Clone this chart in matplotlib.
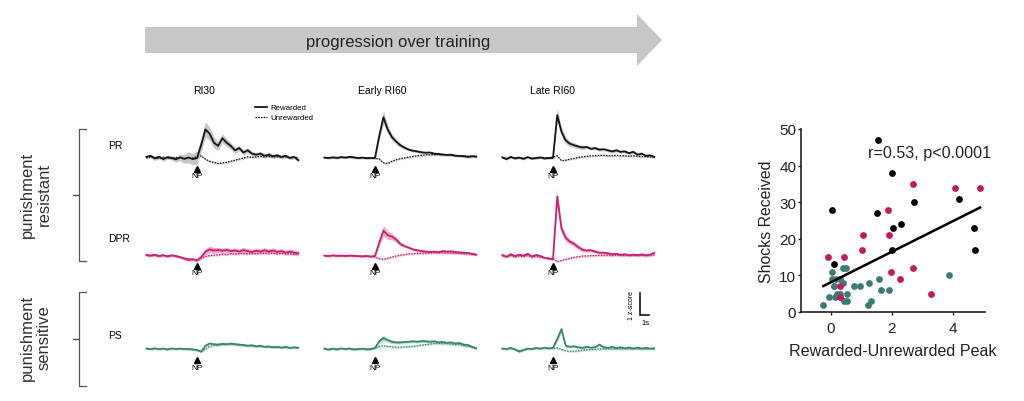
import numpy as np
import matplotlib
matplotlib.use('Agg')
import matplotlib.pyplot as plt
from matplotlib.patches import Polygon
from matplotlib.lines import Line2D

plt.rcParams['font.family'] = ['Liberation Sans', 'DejaVu Sans']

# ---------------- data ----------------
sample_index = np.arange(-12, 25)
sample_period_s = 0.454
time_s = sample_index * sample_period_s

columns = ['RI30', 'Early RI60', 'Late RI60']
groups = ['PR', 'DPR', 'PS']
group_names = ['punishment\nresistant', 'punishment\nsensitive']

# PR (black)
pr_ri30_rew = [0.05, 0.1, -0.02, 0.06, -0.05, 0.04, 0.0, -0.06, 0.03, -0.04, 0.02, -0.05,
               0.0, 0.6, 1.3, 1.1, 0.7, 0.55, 0.9, 0.7, 0.55, 0.35, 0.45, 0.25, 0.35, 0.2,
               0.15, 0.2, 0.1, 0.15, 0.08, 0.12, 0.05, 0.1, 0.0, 0.05, -0.1]
pr_ri30_unr = [0.0, 0.05, 0.02, -0.03, 0.04, 0.0, -0.02, 0.03, 0.0, -0.03, 0.02, 0.0,
               0.05, 0.1, -0.05, -0.15, -0.2, -0.25, -0.22, -0.2, -0.15, -0.1, -0.05, 0.0,
               0.05, 0.03, 0.05, 0.08, 0.05, 0.07, 0.05, 0.06, 0.04, 0.05, 0.02, 0.03, 0.0]
pr_ri30_sem = [0.08, 0.08, 0.1, 0.08, 0.1, 0.08, 0.1, 0.12, 0.15, 0.2, 0.25, 0.25,
               0.3, 0.3, 0.35, 0.3, 0.25, 0.2, 0.2, 0.18, 0.15, 0.15, 0.12, 0.12, 0.12,
               0.1, 0.1, 0.1, 0.1, 0.1, 0.1, 0.08, 0.08, 0.08, 0.08, 0.08, 0.08]
pr_early_rew = [0.02, 0.0, 0.03, 0.01, 0.04, 0.02, 0.05, 0.03, 0.0, 0.02, -0.01, 0.0,
                0.0, 1.0, 1.85, 1.3, 0.95, 0.75, 0.58, 0.47, 0.38, 0.33, 0.3, 0.26, 0.24,
                0.25, 0.2, 0.18, 0.16, 0.14, 0.15, 0.1, 0.1, 0.08, 0.05, 0.08, 0.06]
pr_early_unr = [0.02, 0.01, 0.02, 0.0, 0.03, 0.02, 0.04, 0.02, 0.0, 0.01, 0.0, 0.0,
                0.0, -0.05, -0.22, -0.25, -0.15, -0.08, -0.03, 0.0, 0.04, 0.07, 0.1, 0.12,
                0.14, 0.15, 0.15, 0.16, 0.14, 0.15, 0.13, 0.12, 0.1, 0.1, 0.08, 0.08, 0.07]
pr_early_sem = [0.04] * 12 + [0.05, 0.2, 0.3, 0.2, 0.15, 0.12, 0.1, 0.08] + [0.06] * 17
pr_late_rew = [0.03, -0.05, 0.05, -0.02, 0.02, -0.04, 0.04, -0.03, 0.0, 0.03, -0.02, 0.0,
               0.0, 1.95, 1.2, 0.8, 0.65, 0.58, 0.52, 0.48, 0.5, 0.42, 0.45, 0.38, 0.4,
               0.35, 0.3, 0.35, 0.28, 0.3, 0.22, 0.28, 0.15, 0.2, 0.1, 0.12, 0.05]
pr_late_unr = [0.02, -0.02, 0.03, 0.0, 0.02, -0.02, 0.03, -0.01, 0.0, 0.02, 0.0, 0.0,
               0.05, 0.1, -0.12, -0.1, -0.05, -0.02, 0.02, 0.05, 0.08, 0.1, 0.1, 0.12,
               0.12, 0.1, 0.1, 0.12, 0.1, 0.1, 0.08, 0.1, 0.08, 0.06, 0.06, 0.05, 0.05]
pr_late_sem = [0.05] * 12 + [0.05, 0.3, 0.2, 0.15, 0.12, 0.12, 0.1, 0.1] + [0.07] * 17

# DPR (magenta)
dpr_ri30_rew = [0.05, 0.02, 0.06, 0.0, 0.04, -0.02, 0.03, 0.0, -0.05, -0.12, -0.18, -0.15,
                -0.2, -0.05, 0.2, 0.3, 0.25, 0.27, 0.24, 0.28, 0.22, 0.25, 0.2, 0.27, 0.22,
                0.18, 0.24, 0.2, 0.26, 0.2, 0.25, 0.18, 0.22, 0.15, 0.2, 0.15, 0.12]
dpr_ri30_unr = [0.02, 0.0, 0.03, -0.02, 0.02, 0.0, 0.02, -0.02, -0.05, -0.1, -0.12, -0.15,
                -0.18, -0.1, -0.02, 0.02, 0.04, 0.05, 0.08, 0.06, 0.1, 0.08, 0.1, 0.12, 0.1,
                0.12, 0.1, 0.13, 0.12, 0.14, 0.12, 0.1, 0.12, 0.1, 0.1, 0.08, 0.08]
dpr_ri30_sem = [0.06] * 12 + [0.08, 0.1, 0.14, 0.15, 0.14] + [0.12] * 20
dpr_early_rew = [0.02, 0.0, 0.03, 0.01, 0.02, 0.0, 0.02, 0.01, 0.0, -0.02, 0.0, -0.02,
                 0.0, 0.6, 1.15, 0.95, 0.88, 0.75, 0.55, 0.45, 0.38, 0.3, 0.26, 0.23, 0.2,
                 0.18, 0.2, 0.17, 0.22, 0.2, 0.21, 0.18, 0.16, 0.15, 0.14, 0.1, 0.06]
dpr_early_unr = [0.01, 0.0, 0.02, 0.0, 0.01, 0.0, 0.01, 0.0, 0.0, -0.01, 0.0, -0.02,
                 -0.05, -0.12, -0.15, -0.1, -0.05, 0.0, 0.04, 0.07, 0.1, 0.1, 0.12, 0.12,
                 0.13, 0.14, 0.15, 0.14, 0.15, 0.14, 0.13, 0.12, 0.12, 0.1, 0.1, 0.08, 0.07]
dpr_early_sem = [0.04] * 12 + [0.05, 0.15, 0.25, 0.2, 0.15, 0.12, 0.1] + [0.06] * 18
dpr_late_rew = [0.05, -0.03, 0.08, 0.0, 0.06, 0.02, 0.1, -0.02, 0.05, 0.0, -0.08, -0.12,
                -0.15, 2.7, 1.25, 0.83, 0.65, 0.55, 0.4, 0.28, 0.25, 0.26, 0.2, 0.15, 0.15,
                0.12, 0.08, 0.1, 0.05, 0.08, 0.03, 0.06, 0.04, 0.07, 0.03, 0.06, 0.15]
dpr_late_unr = [0.0, -0.05, 0.02, -0.05, 0.0, -0.03, 0.02, -0.05, -0.02, -0.05, -0.08, -0.1,
                -0.12, -0.26, -0.2, -0.15, -0.1, -0.06, -0.03, 0.0, 0.0, 0.02, 0.02, 0.03,
                0.03, 0.03, 0.02, 0.04, 0.03, 0.02, 0.04, 0.03, 0.02, 0.03, 0.02, 0.03, 0.05]
dpr_late_sem = [0.05] * 12 + [0.06, 0.35, 0.2, 0.15, 0.12, 0.12, 0.1, 0.1] + [0.07] * 17

# PS (teal)
ps_ri30_rew = [0.02, 0.0, 0.03, 0.0, 0.02, -0.02, 0.03, 0.0, 0.02, 0.0, 0.0, -0.02,
               -0.05, -0.12, 0.15, 0.25, 0.22, 0.2, 0.24, 0.22, 0.25, 0.22, 0.2, 0.18, 0.15,
               0.17, 0.12, 0.15, 0.1, 0.12, 0.08, 0.1, 0.06, 0.1, 0.05, 0.08, 0.06]
ps_ri30_unr = [0.01, 0.0, 0.02, 0.0, 0.01, -0.01, 0.02, 0.0, 0.01, 0.0, 0.0, -0.02,
               -0.05, -0.1, 0.0, 0.12, 0.16, 0.18, 0.2, 0.2, 0.22, 0.2, 0.18, 0.17, 0.15,
               0.14, 0.12, 0.12, 0.1, 0.1, 0.08, 0.08, 0.07, 0.07, 0.06, 0.06, 0.05]
ps_ri30_sem = [0.04] * 12 + [0.05] * 25
ps_early_rew = [0.02, -0.03, 0.02, -0.02, 0.03, 0.0, 0.02, -0.02, 0.0, 0.02, -0.02, 0.0,
                0.05, 0.35, 0.5, 0.4, 0.33, 0.3, 0.3, 0.32, 0.33, 0.35, 0.33, 0.36, 0.35,
                0.33, 0.35, 0.3, 0.32, 0.28, 0.3, 0.25, 0.27, 0.2, 0.18, 0.1, 0.03]
ps_early_unr = [0.01, -0.02, 0.02, -0.01, 0.02, 0.0, 0.01, -0.01, 0.0, 0.01, -0.01, 0.0,
                0.03, 0.12, 0.15, 0.12, 0.1, 0.08, 0.08, 0.1, 0.1, 0.12, 0.15, 0.18, 0.2,
                0.22, 0.25, 0.25, 0.24, 0.25, 0.22, 0.2, 0.2, 0.15, 0.12, 0.08, 0.05]
ps_early_sem = [0.04] * 12 + [0.05, 0.1, 0.12, 0.1, 0.08] + [0.06] * 20
ps_late_rew = [0.02, 0.0, 0.05, -0.02, -0.12, -0.05, 0.02, 0.0, 0.05, 0.02, 0.06, 0.03,
               0.05, 0.45, 0.9, 0.15, 0.1, 0.12, 0.08, 0.05, 0.1, 0.06, 0.08, 0.2, 0.08,
               0.05, 0.1, 0.03, 0.08, 0.03, 0.07, 0.02, 0.06, 0.02, 0.05, 0.02, 0.03]
ps_late_unr = [0.01, 0.0, 0.03, -0.01, -0.08, -0.03, 0.01, 0.0, 0.03, 0.01, 0.04, 0.02,
               0.03, 0.05, -0.02, -0.08, -0.1, -0.1, -0.08, -0.06, -0.04, -0.03, -0.02, 0.0,
               0.0, 0.01, 0.0, 0.01, 0.0, 0.01, 0.0, 0.01, 0.0, 0.01, 0.0, 0.01, 0.0]
ps_late_sem = [0.04] * 12 + [0.05, 0.12, 0.15, 0.08] + [0.05] * 21

rewarded = [[pr_ri30_rew, pr_early_rew, pr_late_rew],
            [dpr_ri30_rew, dpr_early_rew, dpr_late_rew],
            [ps_ri30_rew, ps_early_rew, ps_late_rew]]
unrewarded = [[pr_ri30_unr, pr_early_unr, pr_late_unr],
              [dpr_ri30_unr, dpr_early_unr, dpr_late_unr],
              [ps_ri30_unr, ps_early_unr, ps_late_unr]]
sems = [[pr_ri30_sem, pr_early_sem, pr_late_sem],
        [dpr_ri30_sem, dpr_early_sem, dpr_late_sem],
        [ps_ri30_sem, ps_early_sem, ps_late_sem]]

# scatter data
black_x = [1.53, 2.01, 0.05, 0.12, 1.50, 2.73, 2.03, 2.28, 2.00, 4.20, 4.68, 4.72]
black_y = [47, 38, 28, 13, 27, 30, 23, 24, 17, 31, 23, 17]
magenta_x = [-0.08, 0.42, 1.04, 1.02, 1.86, 1.92, 1.97, 2.27, 2.70, 2.70, 3.29, 4.07, 4.88, 0.29, 0.30]
magenta_y = [15, 15, 21, 17, 28, 21, 11, 9, 35, 12, 5, 34, 34, 7, 4]
teal_x = [-0.24, -0.05, 0.03, 0.05, 0.17, 0.11, 0.15, 0.20, 0.30, 0.41, 0.51, 0.39, 0.52,
          0.45, 0.52, 0.77, 0.96, 1.24, 1.21, 1.33, 1.59, 1.63, 1.90, 3.87, 0.30, 0.10]
teal_y = [2, 4, 11, 9, 9, 7, 4, 5, 5, 12, 12, 8, 5, 3, 3, 7, 7, 8, 2, 3, 9, 6, 6, 10, 9, 7]
fit_slope = 4.19
fit_intercept = 8.1
stats_text = 'r=0.53, p<0.0001'

# ---------------- styling ----------------
line_colors = ['#151515', '#cc1f72', '#3e8672']
fill_colors = ['#bdbdbd', '#e8a3c6', '#a9d2c5']
scatter_black = '#000000'
scatter_magenta = '#c4185f'
scatter_teal = '#3e7b78'

W, H = 1024, 402
fig = plt.figure(figsize=(W / 100, H / 100), dpi=100)


def fx(px):
    return px / W


def fy(py):
    return 1 - py / H


PX_PER_S = 9.3
PX_PER_Z = 22.0
np_x = [197, 375, 553]
base_y = [159, 257, 350]
npz_tri = [-11 / PX_PER_Z, -10 / PX_PER_Z, -11 / PX_PER_Z]
npz_txt = [-18 / PX_PER_Z, -16.5 / PX_PER_Z, -19 / PX_PER_Z]

axes_grid = {}
for r in range(3):
    for c in range(3):
        left_px, right_px = np_x[c] - 60, np_x[c] + 115
        top_px, bot_px = base_y[r] - 80, base_y[r] + 28
        ax = fig.add_axes([fx(left_px), fy(bot_px), (right_px - left_px) / W,
                           (bot_px - top_px) / H])
        ax.set_xlim(-60 / PX_PER_S, 115 / PX_PER_S)
        ax.set_ylim(-28 / PX_PER_Z, 80 / PX_PER_Z)
        ax.axis('off')
        rew = np.array(rewarded[r][c])
        unr = np.array(unrewarded[r][c])
        sem = np.array(sems[r][c])
        ax.fill_between(time_s, unr - 0.05, unr + 0.05, color=fill_colors[r],
                        alpha=0.6, lw=0)
        ax.fill_between(time_s, rew - sem, rew + sem, color=fill_colors[r],
                        alpha=0.85, lw=0)
        ax.plot(time_s, unr, color=line_colors[r], lw=0.9, ls=(0, (1.2, 1.0)))
        ax.plot(time_s, rew, color=line_colors[r], lw=1.3)
        ax.plot([0], [npz_tri[r]], marker='^', ms=5, color='black', clip_on=False,
                ls='none')
        ax.text(0, npz_txt[r], 'NP', ha='center', va='center', fontsize=6,
                clip_on=False)
        axes_grid[(r, c)] = ax

# column titles
title_x = [204, 382, 553]
for c, name in enumerate(columns):
    fig.text(fx(title_x[c]), fy(91), name, ha='center', va='center', fontsize=7.5)

# row labels
row_label_y = [146, 239, 336]
for r, name in enumerate(groups):
    fig.text(fx(108), fy(row_label_y[r]), name, ha='left', va='center', fontsize=7.5)

# legend
fig.add_artist(Line2D([fx(255), fx(267)], [fy(108), fy(108)], color='black', lw=1.2,
                      transform=fig.transFigure))
fig.add_artist(Line2D([fx(255), fx(267)], [fy(118), fy(118)], color='black', lw=0.9,
                      ls=(0, (1.2, 1.0)), transform=fig.transFigure))
fig.text(fx(270), fy(108), 'Rewarded', ha='left', va='center', fontsize=5.7)
fig.text(fx(270), fy(118), 'Unrewarded', ha='left', va='center', fontsize=5.7)

# scale bar (in PS / Late RI60 axes)
sax = axes_grid[(2, 2)]
sb_t, sb_z = (640 - 553) / PX_PER_S, (350 - 316) / PX_PER_Z
sax.plot([sb_t, sb_t, sb_t + 1], [sb_z + 1, sb_z, sb_z], color='black', lw=1.1,
         clip_on=False, solid_joinstyle='miter')
sax.text(sb_t + 0.55, sb_z - 0.36, '1s', ha='center', va='center', fontsize=5.5,
         clip_on=False)
sax.text(sb_t - 0.95, sb_z + 0.5, '1 z-score', ha='center', va='center', fontsize=5,
         rotation=90, clip_on=False)

# progression arrow
arrow_pts = [(145, 28), (637, 28), (637, 15), (662, 41), (637, 67), (637, 54), (145, 54)]
fig.add_artist(Polygon([(fx(x), fy(y)) for x, y in arrow_pts], closed=True,
                       facecolor='#c8c8c8', edgecolor='none', transform=fig.transFigure))
fig.text(fx(398), fy(42), 'progression over training', ha='center', va='center',
         fontsize=12, color='#222222')

# group brackets
bracket_color = '#555555'
for (top, bot, name, ty) in [(130, 262, group_names[0], 195), (293, 387, group_names[1], 338)]:
    mid = (top + bot) / 2
    xs = [86, 79, 79, 73, 79, 79, 86]
    ys = [top, top, mid, mid, mid, bot, bot]
    fig.add_artist(Line2D([fx(x) for x in xs], [fy(y) for y in ys], color=bracket_color,
                          lw=0.9, transform=fig.transFigure))
    fig.text(fx(36), fy(ty), name, ha='center', va='center', rotation=90, fontsize=12,
             color='#333333', linespacing=1.15, multialignment='center')

# ---------------- scatter ----------------
sc = fig.add_axes([fx(801), fy(313), (985 - 801) / W, (313 - 130) / H])
sc.set_xlim(-0.97, 5.04)
sc.set_ylim(0, 50)
dot = 24
sc.scatter(teal_x, teal_y, s=dot, color=scatter_teal, lw=0, zorder=3)
sc.scatter(magenta_x, magenta_y, s=dot, color=scatter_magenta, lw=0, zorder=3)
sc.scatter(black_x, black_y, s=dot, color=scatter_black, lw=0, zorder=3)
all_x = np.array(black_x + magenta_x + teal_x)
fit_x = np.array([all_x.min(), all_x.max()])
sc.plot(fit_x, fit_intercept + fit_slope * fit_x, color='black', lw=1.8, zorder=4)
sc.set_xticks([0, 2, 4])
sc.set_yticks([0, 10, 20, 30, 40, 50])
for s in ['top', 'right']:
    sc.spines[s].set_visible(False)
for s in ['left', 'bottom']:
    sc.spines[s].set_linewidth(1.2)
    sc.spines[s].set_color('#222222')
sc.tick_params(axis='both', direction='out', length=2.5, width=1, labelsize=11,
               colors='#222222')
sc.tick_params(axis='y', pad=1)
sc.tick_params(axis='x', pad=4)
sc.set_xlabel('Rewarded-Unrewarded Peak', fontsize=11.6, color='#222222', labelpad=6)
sc.set_ylabel('Shocks Received', fontsize=11.4, color='#222222', labelpad=4)
sc.text(1.22, 43.7, stats_text, ha='left', va='center', fontsize=11.6, color='#222222')

fig.savefig('out.png', dpi=100)
